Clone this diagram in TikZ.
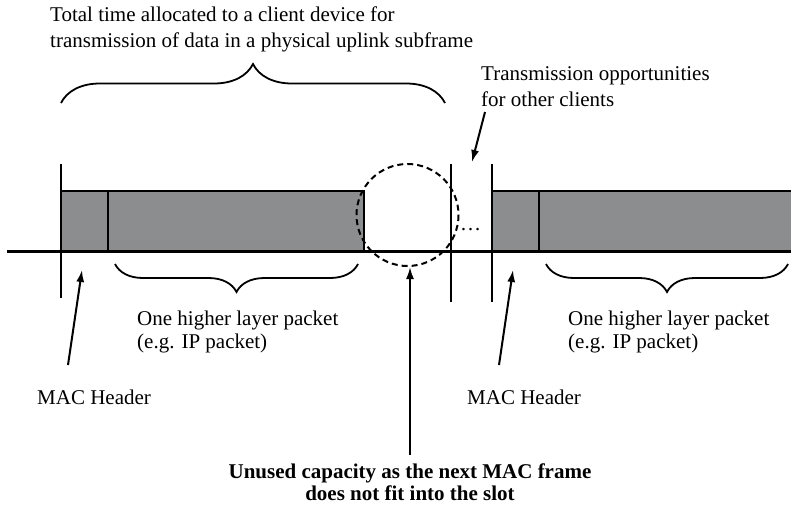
\documentclass[tikz,border=0pt]{standalone}
\usepackage{fontspec}
\setmainfont{Liberation Serif}
\usetikzlibrary{decorations.pathreplacing,arrows.meta,calc}
\definecolor{pktgray}{RGB}{140,141,143}

\begin{document}
\begin{tikzpicture}[x=1pt, y=-1pt, >={Latex[length=12pt,width=8pt]},
    lbl/.style={font=\fontsize{21}{23}\selectfont, inner sep=0pt, align=left},
    slot/.style={line width=2.5pt},
    frame/.style={line width=2.5pt, fill=pktgray},
    curly/.style={line width=1.8pt, decorate},
    pointer/.style={->, line width=2pt}]

      % Page size of the reference
      \useasboundingbox (0,0) rectangle (791,508);

      % Time axis
      \coordinate (axisL) at (7,251);
      \coordinate (axisR) at (791,251);
      \draw[line width=3pt] (axisL) -- (axisR);

      % First client: MAC header + one packet
      \draw[frame] (61,191) rectangle (364,251);
      \draw[slot] (108,191) -- (108,251);
      \draw[slot] (61,164) -- (61,298);

      % Gap for other clients
      \draw[slot] (451,164) -- (451,302);
      \draw[slot] (492,164) -- (492,302);
      \node[lbl, anchor=base west] (dots) at (460,230) {\ldots};

      % Next client: MAC header + one packet (runs off the page)
      \draw[frame] (492,191) rectangle (800,251);
      \draw[slot] (539,191) -- (539,251);

      % Unused capacity
      \draw[line width=2pt, dash pattern=on 6pt off 4pt] (407.5,215) circle (51);

      % Braces
      \draw[curly, decoration={brace, amplitude=39pt}] (61,103) -- (445,103);
      \draw[curly, decoration={brace, amplitude=28pt, mirror}] (115,264) -- (358,264);
      \draw[curly, decoration={brace, amplitude=28pt, mirror}] (546,264) -- (788,264);

      % Labels
      \node[lbl, anchor=north west, font=\fontsize{21}{26}\selectfont] (total) at (50,6.5)
        {Total time allocated to a client device for\\transmission of data in a physical uplink subframe};
      \node[lbl, anchor=north west, font=\fontsize{21}{26}\selectfont] (others) at (481,66)
        {Transmission opportunities\\for other clients};
      \node[lbl, anchor=north west] (pktA) at (137,311) {One higher layer packet\\(e.g. IP packet)};
      \node[lbl, anchor=north west] (pktB) at (568,311) {One higher layer packet\\(e.g. IP packet)};
      \node[lbl, anchor=base west] (hdrA) at (37,404) {MAC Header};
      \node[lbl, anchor=base west] (hdrB) at (467,404) {MAC Header};
      \node[lbl, anchor=north, align=center, font=\bfseries\fontsize{21}{22}\selectfont] (unused) at (410,464)
        {Unused capacity as the next MAC frame\\does not fit into the slot};

      % Pointer arrows
      \coordinate (othersTail) at (485,112);
      \coordinate (othersTip) at (472,162);
      \coordinate (hdrATail) at (68,365);
      \coordinate (hdrATip) at (82,270);
      \coordinate (hdrBTail) at (499,365);
      \coordinate (hdrBTip) at (513,270);
      \coordinate (unusedTail) at (410,455);
      \coordinate (unusedTip) at (410,267);
      \draw[pointer] (othersTail) -- (othersTip);
      \draw[pointer] (hdrATail) -- (hdrATip);
      \draw[pointer] (hdrBTail) -- (hdrBTip);
      \draw[pointer] (unusedTail) -- (unusedTip);
\end{tikzpicture}
\end{document}
